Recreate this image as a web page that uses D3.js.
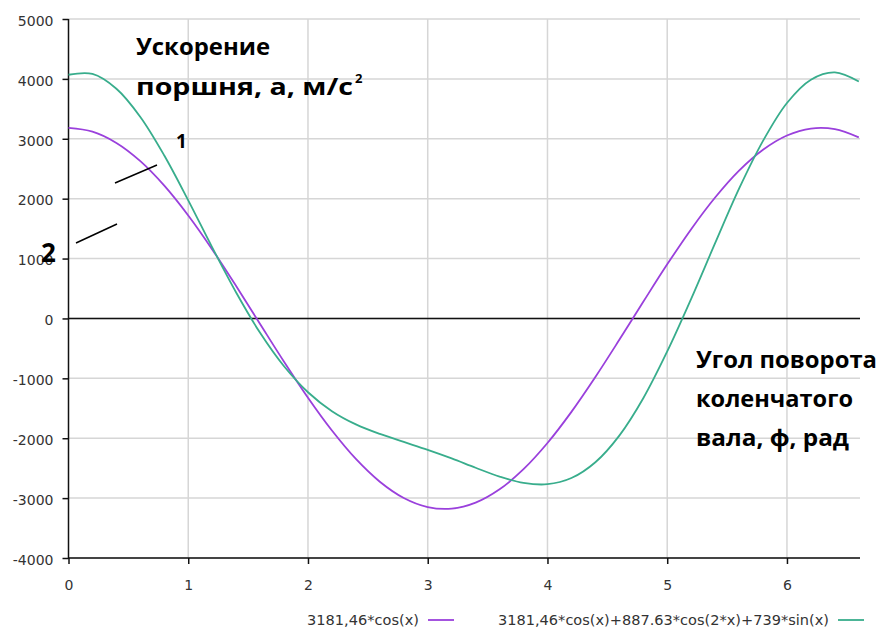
<!DOCTYPE html>
<html>
<head>
<meta charset="utf-8">
<script src="https://cdn.jsdelivr.net/npm/d3@7"></script>
<style>
  body { margin: 0; background: #fff; }
  svg { display: block; }
</style>
</head>
<body>
<svg id="chart" width="880" height="628"></svg>
<script>
// ---- data ----
const xValues = [0,0.2,0.4,0.6,0.8,1.0,1.2,1.4,1.6,1.8,2.0,2.2,2.4,2.6,2.8,3.0,3.2,3.4,3.6,3.8,4.0,4.2,4.4,4.6,4.8,5.0,5.2,5.4,5.6,5.8,6.0,6.2,6.4,6.6];
const series1 = [3181,3118,2930,2626,2217,1719,1153,541,-93,-723,-1324,-1872,-2346,-2726,-2998,-3150,-3176,-3076,-2853,-2517,-2080,-1560,-978,-357,278,903,1491,2019,2468,2817,3055,3170,3160,3023];
const series2 = [4069,4083,3836,3365,2721,1972,1187,433,-240,-799,-1232,-1548,-1769,-1929,-2062,-2194,-2337,-2493,-2640,-2746,-2768,-2665,-2401,-1956,-1332,-551,328,1257,2167,2965,3598,3987,4108,3955];
const seriesNames = ["3181,46*cos(x)", "3181,46*cos(x)+887.63*cos(2*x)+739*sin(x)"];
const seriesColors = ["#9a40dc", "#38ad8c"];
const xTicks = [0,1,2,3,4,5,6];
const yTicks = [-4000,-3000,-2000,-1000,0,1000,2000,3000,4000,5000];

(function () {
const svg = d3.select("#chart");
const pL = 68.5, pR = 860, pT = 19, pB = 558;
const x = d3.scaleLinear().domain([0, 6.61]).range([pL, pR]);
const y = d3.scaleLinear().domain([-4000, 5000]).range([pB, pT]);
const tickFont = "DejaVu Sans, Verdana, sans-serif";

// grid
svg.append("g").selectAll("line").data(yTicks).join("line")
  .attr("x1", pL).attr("x2", pR)
  .attr("y1", d => y(d)).attr("y2", d => y(d))
  .attr("stroke", "#d6d6d6").attr("stroke-width", 1.5);
svg.append("g").selectAll("line").data(xTicks.filter(d => d > 0)).join("line")
  .attr("x1", d => x(d)).attr("x2", d => x(d))
  .attr("y1", pT).attr("y2", pB)
  .attr("stroke", "#d6d6d6").attr("stroke-width", 1.5);

// zero line
svg.append("line").attr("x1", pL).attr("x2", pR)
  .attr("y1", y(0)).attr("y2", y(0)).attr("stroke", "#111").attr("stroke-width", 1.5);

// axes
const yAxis = svg.append("g").attr("transform", `translate(${pL},0)`)
  .call(d3.axisLeft(y).tickValues(yTicks).tickSize(6).tickPadding(9).tickFormat(d => String(d)));
const xAxis = svg.append("g").attr("transform", `translate(0,${pB})`)
  .call(d3.axisBottom(x).tickValues(xTicks).tickSize(6).tickPadding(16).tickFormat(d => String(d)));
[yAxis, xAxis].forEach(g => {
  g.select(".domain").remove();
  g.selectAll(".tick line").attr("stroke", "#111").attr("stroke-width", 1.5);
  g.selectAll(".tick text").attr("fill", "#333").style("font-family", tickFont).style("font-size", "14px");
});
yAxis.selectAll(".tick text").attr("dy", "0.45em");
svg.append("line").attr("x1", pL).attr("x2", pL).attr("y1", pT).attr("y2", pB + 0.75)
  .attr("stroke", "#111").attr("stroke-width", 1.5);
svg.append("line").attr("x1", pL).attr("x2", pR).attr("y1", pB).attr("y2", pB)
  .attr("stroke", "#111").attr("stroke-width", 1.5);

// curves
const line = d3.line().x((d, i) => x(xValues[i])).y(d => y(d)).curve(d3.curveCatmullRom.alpha(0.5));
[series1, series2].forEach((s, k) => {
  svg.append("path").datum(s).attr("d", line)
    .attr("fill", "none").attr("stroke", seriesColors[k]).attr("stroke-width", 1.8);
});

// legend
const legendItems = [
  { x0: 307, x1: 419, lx: 428 },
  { x0: 498, x1: 829, lx: 838 }
];
legendItems.forEach((p, k) => {
  svg.append("text").attr("x", p.x0).attr("y", 625).text(seriesNames[k])
    .attr("fill", "#333").style("font-family", tickFont).style("font-size", "14px")
    .attr("textLength", p.x1 - p.x0).attr("lengthAdjust", "spacingAndGlyphs");
  svg.append("line").attr("x1", p.lx).attr("x2", p.lx + 26).attr("y1", 620).attr("y2", 620)
    .attr("stroke", seriesColors[k]).attr("stroke-width", 1.8);
});

// annotations
const annFont = "'Open Sans', Lato, sans-serif";
function ann(txt, ax, ay, size, w) {
  const t = svg.append("text").attr("x", ax).attr("y", ay).text(txt)
    .attr("fill", "#000").style("font-family", annFont).style("font-weight", "bold").style("font-size", size + "px");
  if (w) t.attr("textLength", w).attr("lengthAdjust", "spacingAndGlyphs");
  return t;
}
ann("Ускорение", 136, 55, 24, 134);
ann("поршня, а, м/с", 136, 95, 24, 217);
svg.append("text").attr("x", 355).attr("y", 83).text("2")
  .attr("fill", "#000").style("font-family", annFont).style("font-weight", "bold").style("font-size", "13px");
ann("Угол поворота", 696, 368, 24, 181);
ann("коленчатого", 696, 407, 24, 157);
ann("вала, ф, рад", 696, 446, 24, 153);
ann("1", 176, 148, 19);
ann("2", 41, 262, 26);

// pointer lines
svg.append("line").attr("x1", 115).attr("y1", 183).attr("x2", 157).attr("y2", 165)
  .attr("stroke", "#000").attr("stroke-width", 1.5);
svg.append("line").attr("x1", 76).attr("y1", 243).attr("x2", 117).attr("y2", 224)
  .attr("stroke", "#000").attr("stroke-width", 1.5);
})();
</script>
</body>
</html>
